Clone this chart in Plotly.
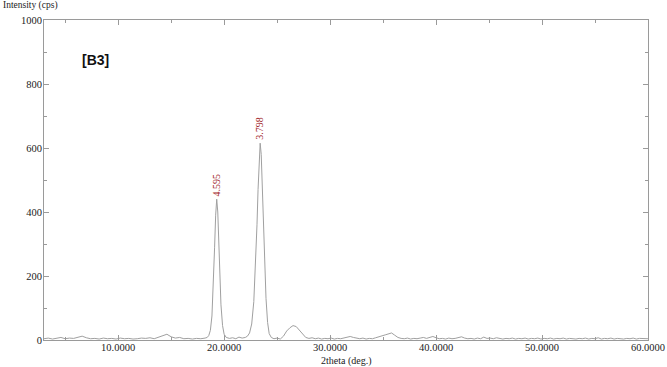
import plotly.graph_objects as go

two_theta = [
    3.0, 3.4, 3.8, 4.2, 4.6, 5.0, 5.4, 5.8, 6.2, 6.6, 7.0, 7.4, 7.8, 8.2, 8.6, 9.0, 9.4, 9.8,
    10.2, 10.6, 11.0, 11.4, 11.8, 12.2, 12.6, 13.0, 13.4, 13.8, 14.2, 14.6, 15.0, 15.4, 15.8,
    16.2, 16.6, 17.0, 17.4, 17.8, 18.2,
    18.4, 18.55, 18.7, 18.85, 19.0, 19.1, 19.2, 19.3, 19.4, 19.5, 19.6, 19.7, 19.85, 20.0, 20.2,
    20.5, 20.8, 21.1, 21.4, 21.7, 22.0,
    22.2, 22.4, 22.6, 22.8, 22.95, 23.1, 23.2, 23.3, 23.4, 23.5, 23.6, 23.7, 23.8, 23.95, 24.1,
    24.25, 24.45,
    24.7, 25.0, 25.3, 25.6, 25.9, 26.2, 26.5, 26.8, 27.1, 27.4, 27.7, 28.0, 28.3, 28.6, 28.9,
    29.2, 29.5, 29.8, 30.1, 30.4, 30.7, 31.0, 31.3, 31.6, 31.9, 32.2, 32.5, 32.8, 33.1, 33.4,
    33.7, 34.0, 34.3, 34.6, 34.9, 35.2, 35.5, 35.8, 36.1, 36.4, 36.7, 37.0, 37.3, 37.6, 37.9,
    38.2, 38.5, 38.8, 39.1, 39.4, 39.7, 40.0, 40.3, 40.6, 40.9, 41.2, 41.5, 41.8, 42.1, 42.4,
    42.7, 43.0, 43.3, 43.6, 43.9, 44.2, 44.5, 44.8, 45.1, 45.4, 45.7, 46.0, 46.3, 46.6, 46.9,
    47.2, 47.5, 47.8, 48.1, 48.4, 48.7, 49.0, 49.3, 49.6, 49.9, 50.2, 50.5, 50.8, 51.1, 51.4,
    51.7, 52.0, 52.3, 52.6, 52.9, 53.2, 53.5, 53.8, 54.1, 54.4, 54.7, 55.0, 55.3, 55.6, 55.9,
    56.2, 56.5, 56.8, 57.1, 57.4, 57.7, 58.0, 58.3, 58.6, 58.9, 59.2, 59.5, 59.8, 60.0,
]
intensity = [
    4, 6, 3, 5, 8, 4, 6, 5, 9, 12, 7, 4, 5, 3, 6, 4, 5, 3,
    6, 4, 5, 3, 4, 6, 5, 7, 4, 9, 12, 18, 10, 6, 8,
    4, 5, 3, 5, 4, 6,
    8, 14, 30, 75, 180, 290, 390, 440, 400, 300, 195, 110, 45, 18, 8,
    5, 7, 4, 9, 6, 8,
    12, 22, 50, 120, 220, 360, 470, 570, 615, 580, 490, 370, 250, 130, 55,
    20, 8,
    4, 6, 3, 12, 28, 38, 45, 42, 30, 18, 8, 5, 7, 4, 6,
    3, 5, 4, 6, 3, 5, 4, 6, 8, 11, 8, 5, 4, 6, 3,
    5, 4, 7, 9, 13, 16, 20, 22, 15, 8, 5, 4, 6, 3, 5,
    4, 6, 8, 5, 9, 11, 7, 4, 5, 3, 6, 4, 5, 8, 10,
    6, 4, 5, 3, 6, 4, 9, 5, 6, 4, 7, 5, 3, 5, 4,
    6, 3, 5, 4, 6, 3, 5, 4, 6, 3, 5, 4, 6, 3, 5,
    4, 6, 3, 5, 4, 3, 5, 4, 6, 3, 5, 4, 7, 3, 5,
    4, 6, 3, 5, 4, 3, 5, 4, 6, 3, 5, 4, 3, 4,
]

peak_pos = [19.3, 23.4]
peak_int = [440, 615]
peak_labels = ["4.595", "3.798"]

x_ticks = [10, 20, 30, 40, 50, 60]
y_ticks = [0, 200, 400, 600, 800, 1000]

serif = "Liberation Serif, Times New Roman, serif"

fig = go.Figure()
fig.add_trace(go.Scatter(
    x=two_theta, y=intensity, mode="lines",
    line=dict(color="#a0a0a0", width=1), hoverinfo="skip", showlegend=False,
))

for px, py, lab in zip(peak_pos, peak_int, peak_labels):
    fig.add_annotation(x=px, y=py, text=lab, textangle=-90, showarrow=False,
                       yanchor="bottom", xanchor="center", yshift=1,
                       font=dict(family=serif, size=10, color="#a3282c"))

fig.add_annotation(xref="paper", yref="paper", x=0.085, y=0.875, text="<b>[B3]</b>",
                   showarrow=False, xanchor="center", yanchor="middle",
                   font=dict(family="Liberation Sans, Arial, sans-serif", size=14, color="#111"))
fig.add_annotation(xref="paper", yref="paper", x=-0.071, y=1.0, yshift=7,
                   text="Intensity (cps)", showarrow=False, xanchor="left", yanchor="bottom",
                   font=dict(family=serif, size=9.5, color="#222"))
fig.add_annotation(xref="paper", yref="paper", x=0.5, y=0, yshift=-13,
                   text="2theta (deg.)", showarrow=False, xanchor="center", yanchor="top",
                   font=dict(family=serif, size=10, color="#222"))

axis_common = dict(showgrid=False, zeroline=False, showline=True, linecolor="#9a9a9a",
                   linewidth=1, mirror="ticks", ticks="inside", ticklen=5, automargin=False,
                   tickcolor="#9a9a9a", tickfont=dict(family=serif, size=10.5, color="#222"))

fig.update_xaxes(range=[3, 60], tickvals=x_ticks, tickformat=".4f", ticklabelstandoff=-3,
                 minor=dict(dtick=5, tick0=0, ticks="inside", ticklen=3, tickcolor="#9a9a9a"),
                 **axis_common)
fig.update_yaxes(range=[0, 1000], tickvals=y_ticks, ticklabelstandoff=-1,
                 minor=dict(dtick=100, tick0=0, ticks="inside", ticklen=3, tickcolor="#9a9a9a"),
                 **axis_common)

fig.update_layout(width=667, height=367, margin=dict(l=44, r=19, t=20, b=27),
                  plot_bgcolor="white", paper_bgcolor="white")

fig.write_html("out.html", config={"displayModeBar": False},
               post_script="document.body.style.margin='0';")
